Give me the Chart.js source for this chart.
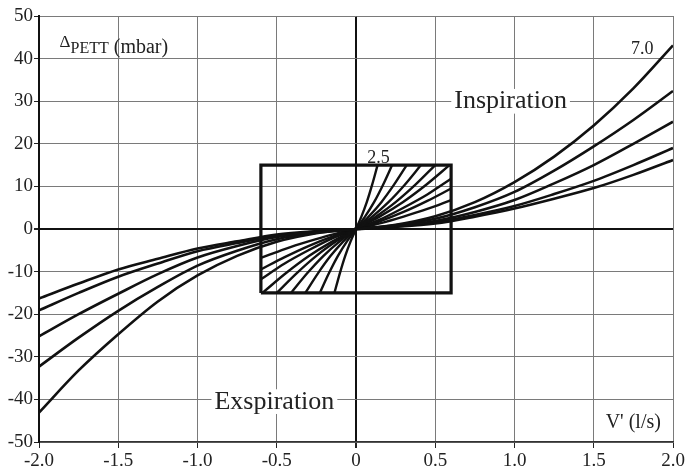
<!DOCTYPE html>
<html>
<head>
<meta charset="utf-8">
<script src="https://cdn.jsdelivr.net/npm/chart.js@4.4.1/dist/chart.umd.min.js"></script>
<style>
  html, body { margin: 0; padding: 0; background: #fff; overflow: hidden; }
  canvas { display: block; }
</style>
</head>
<body>
<canvas id="ettChart" width="688" height="474"></canvas>
<script>
// flow (l/s) for the large tubes
var flowX = [-2, -1.75, -1.5, -1.25, -1, -0.75, -0.5, -0.25, 0, 0.25, 0.5, 0.75, 1, 1.25, 1.5, 1.75, 2];
// pressure drop (mbar), tube 7.0 ... 9.0
var p70 = [-43.1, -33.2, -24.7, -17.0, -10.9, -6.3, -3.0, -1.0, 0, 1.0, 3.0, 6.3, 11.0, 17.0, 24.3, 33.0, 43.1];
var p75 = [-32.3, -25.5, -19.2, -13.6, -8.6, -5.1, -2.4, -0.9, 0, 0.9, 2.4, 5.1, 8.7, 13.7, 19.4, 25.6, 32.4];
var p80 = [-25.2, -20.0, -15.2, -10.6, -6.7, -4.0, -1.9, -0.7, 0, 0.7, 1.9, 4.0, 6.8, 10.7, 15.0, 20.0, 25.2];
var p85 = [-19.1, -15.0, -11.2, -8.1, -5.2, -3.3, -1.6, -0.6, 0, 0.6, 1.6, 3.3, 5.4, 8.2, 11.3, 15.0, 19.0];
var p90 = [-16.3, -12.8, -9.5, -7.0, -4.6, -2.9, -1.3, -0.5, 0, 0.5, 1.3, 2.9, 4.8, 7.1, 9.6, 12.7, 16.2];

// small tubes 2.5 ... 6.5, only inside the box
var x25 = [-0.136, -0.102, -0.068, -0.034, 0, 0.034, 0.068, 0.102, 0.136];
var y25 = [-15, -10.4, -6.3, -2.9, 0, 2.9, 6.3, 10.4, 15];
var x30 = [-0.228, -0.171, -0.114, -0.057, 0, 0.057, 0.114, 0.171, 0.228];
var y30 = [-15, -10.4, -6.3, -2.9, 0, 2.9, 6.3, 10.4, 15];
var x35 = [-0.32, -0.24, -0.16, -0.08, 0, 0.08, 0.16, 0.24, 0.32];
var y35 = [-15, -10.4, -6.3, -2.9, 0, 2.9, 6.3, 10.4, 15];
var x40 = [-0.41, -0.308, -0.205, -0.103, 0, 0.103, 0.205, 0.308, 0.41];
var y40 = [-15, -10.4, -6.3, -2.9, 0, 2.9, 6.3, 10.4, 15];
var x45 = [-0.5, -0.375, -0.25, -0.125, 0, 0.125, 0.25, 0.375, 0.5];
var y45 = [-15, -10.4, -6.3, -2.9, 0, 2.9, 6.3, 10.4, 15];
var x50 = [-0.59, -0.443, -0.295, -0.148, 0, 0.148, 0.295, 0.443, 0.59];
var y50 = [-15, -10.4, -6.3, -2.9, 0, 2.9, 6.3, 10.4, 15];
var x55 = [-0.6, -0.45, -0.3, -0.15, 0, 0.15, 0.3, 0.45, 0.6];
var y55 = [-11.8, -8.1, -5.0, -2.2, 0, 2.2, 5.0, 8.1, 11.8];
var x60 = [-0.6, -0.45, -0.3, -0.15, 0, 0.15, 0.3, 0.45, 0.6];
var y60 = [-9.5, -6.6, -4.0, -1.8, 0, 1.8, 4.0, 6.6, 9.5];
var x65 = [-0.6, -0.45, -0.3, -0.15, 0, 0.15, 0.3, 0.45, 0.6];
var y65 = [-6.8, -4.7, -2.9, -1.3, 0, 1.3, 2.9, 4.7, 6.8];

// the box around the small tubes
var boxX = [-0.6, 0.6, 0.6, -0.6, -0.6];
var boxY = [-15, -15, 15, 15, -15];

var xTickLabels = ['-2.0', '-1.5', '-1.0', '-0.5', '0', '0.5', '1.0', '1.5', '2.0'];
var yTickLabels = ['-50', '-40', '-30', '-20', '-10', '0', '10', '20', '30', '40', '50'];

function pts(xs, ys) {
  return xs.map(function (x, i) { return { x: x, y: ys[i] }; });
}

function curve(xs, ys, w) {
  return {
    data: pts(xs, ys),
    showLine: true,
    borderColor: '#111',
    borderWidth: w,
    pointRadius: 0,
    cubicInterpolationMode: 'monotone',
    fill: false
  };
}

var serif = "'Liberation Serif', 'Times New Roman', serif";

var textPlugin = {
  id: 'texts',
  afterDatasetsDraw: function (chart) {
    var c = chart.ctx, xs = chart.scales.x, ys = chart.scales.y;
    c.save();
    c.fillStyle = '#222';
    c.textBaseline = 'alphabetic';

    function label(str, x, y, size, bg) {
      c.font = size + 'px ' + serif;
      var px = xs.getPixelForValue(x), py = ys.getPixelForValue(y);
      if (bg) {
        var w = c.measureText(str).width;
        c.fillStyle = '#fff';
        c.fillRect(px - 3, py - size * 0.75, w + 6, size * 0.95);
        c.fillStyle = '#222';
      }
      c.fillText(str, px, py);
    }

    label('Inspiration', 0.62, 28.3, 26, true);
    label('Exspiration', -0.893, -42.2, 26, true);
    label("V' (l/s)", 1.575, -46.8, 20, false);
    label('2.5', 0.071, 15.6, 18, false);
    label('7.0', 1.735, 41.1, 18, false);

    // delta P ETT (mbar)
    var px = xs.getPixelForValue(-1.87), py = ys.getPixelForValue(41.3);
    c.font = '17px ' + serif;
    c.fillText('\u0394', px, py - 6);
    px += c.measureText('\u0394').width;
    c.font = '16px ' + serif;
    c.fillText('PETT', px, py);
    px += c.measureText('PETT').width + 5;
    c.font = '20px ' + serif;
    c.fillText('(mbar)', px, py);
    c.restore();
  }
};

var datasets = [
  curve(flowX, p70, 2.6),
  curve(flowX, p75, 2.6),
  curve(flowX, p80, 2.6),
  curve(flowX, p85, 2.6),
  curve(flowX, p90, 2.6),
  curve(x25, y25, 2.4),
  curve(x30, y30, 2.4),
  curve(x35, y35, 2.4),
  curve(x40, y40, 2.4),
  curve(x45, y45, 2.4),
  curve(x50, y50, 2.4),
  curve(x55, y55, 2.4),
  curve(x60, y60, 2.4),
  curve(x65, y65, 2.4)
];
var box = curve(boxX, boxY, 3.2);
box.cubicInterpolationMode = 'default';
box.tension = 0;
datasets.push(box);

var ctx = document.getElementById('ettChart').getContext('2d');
var ettChart = new Chart(ctx, {
  type: 'scatter',
  data: { datasets: datasets },
  options: {
    responsive: false,
    animation: false,
    layout: { padding: { top: 16, right: 15, left: 0, bottom: 0 } },
    plugins: { legend: { display: false }, tooltip: { enabled: false } },
    scales: {
      x: {
        type: 'linear',
        min: -2, max: 2,
        afterFit: function (s) { s.height = 32; },
        ticks: {
          stepSize: 0.5,
          padding: 2,
          color: '#222',
          font: { family: serif, size: 19 },
          callback: function (v) {
            var i = Math.round((v + 2) / 0.5);
            return xTickLabels[i];
          }
        },
        grid: {
          color: function (c) { return c.tick && c.tick.value === 0 ? '#111' : '#7a7a7a'; },
          lineWidth: function (c) { return c.tick && c.tick.value === 0 ? 2 : 1; },
          tickLength: 6,
          tickColor: '#222'
        },
        border: { color: '#333', width: 1.5 }
      },
      y: {
        type: 'linear',
        min: -50, max: 50,
        afterFit: function (s) { s.width = 39; },
        ticks: {
          stepSize: 10,
          padding: 1,
          color: '#222',
          font: { family: serif, size: 19 },
          callback: function (v) {
            var i = Math.round((v + 50) / 10);
            return yTickLabels[i];
          }
        },
        grid: {
          color: function (c) { return c.tick && c.tick.value === 0 ? '#111' : '#7a7a7a'; },
          lineWidth: function (c) { return c.tick && c.tick.value === 0 ? 2 : 1; },
          tickLength: 5,
          tickColor: '#222'
        },
        border: { color: '#111', width: 2 }
      }
    }
  },
  plugins: [textPlugin]
});
</script>
</body>
</html>
